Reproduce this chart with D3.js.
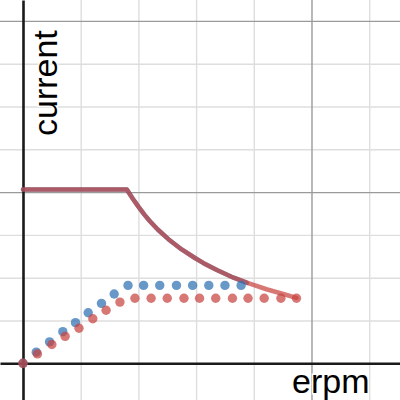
<!DOCTYPE html>
<html>
<head>
<meta charset="utf-8">
<script src="https://cdn.jsdelivr.net/npm/d3@7"></script>
<style>
  html, body { margin: 0; padding: 0; background: #fff; }
  svg { display: block; }
</style>
</head>
<body>
<svg id="chart" width="400" height="400"></svg>
<script>
// ---- data (x in thousand erpm, y in amps) ----
const xMinorTicks = [10, 20, 30, 40, 60];
const xMajorTicks = [50];
const yMinorTicks = [5, 10, 15, 25, 30, 35];
const yMajorTicks = [20, 40];

const blueX = [0, 2.3, 4.6, 6.9, 9.1, 11.3, 13.6, 15.8, 18.2, 20.9, 23.7, 26.6, 29.4, 32.2, 35.0, 37.8];
const blueY = [0, 1.3, 2.5, 3.7, 4.75, 5.9, 7.0, 8.1, 9.1, 9.1, 9.1, 9.1, 9.1, 9.1, 9.1, 9.1];

const redX = [0, 2.5, 5.0, 7.3, 9.7, 12.1, 14.4, 16.8, 19.4, 22.2, 25.0, 27.9, 30.6, 33.4, 36.3, 39.0, 41.8, 44.7, 47.4];
const redY = [0, 1.1, 2.2, 3.15, 4.1, 5.2, 6.2, 7.15, 7.6, 7.6, 7.6, 7.6, 7.6, 7.6, 7.6, 7.6, 7.6, 7.6, 7.6];

const redLineX = [0, 18.0, 19.0, 20.0, 21.0, 22.0, 23.4, 25.2, 27.5, 29.8, 31.3, 33.6, 36.5, 39.3, 42.2, 45.1, 47.4];
const redLineY = [20.3, 20.3, 19.25, 18.3, 17.4, 16.6, 15.6, 14.5, 13.3, 12.3, 11.7, 10.9, 10.0, 9.3, 8.65, 8.1, 7.65];

const blueLineX = [0, 18.0, 19.0, 20.0, 21.0, 22.0, 23.4, 25.2, 27.5, 29.8, 31.3, 33.6, 36.5, 38.8];
const blueLineY = [20.3, 20.3, 19.25, 18.3, 17.4, 16.6, 15.6, 14.5, 13.3, 12.3, 11.7, 10.9, 10.0, 9.4];

const xLabel = "erpm";
const yLabel = "current";

// ---- drawing ----
const W = 400, H = 400;
const svg = d3.select("#chart");
const x = d3.scaleLinear().domain([-3.986, 65.34]).range([0, W]);
const y = d3.scaleLinear().domain([42.44, -4.287]).range([0, H]);

const RED = "#c74440", BLUE = "#2d70b3";

function gridX(ticks, color, width) {
  const g = svg.append("g").attr("transform", `translate(0,${H})`)
    .call(d3.axisBottom(x).tickValues(ticks).tickSize(-H).tickFormat(""));
  g.select(".domain").remove();
  g.selectAll(".tick line").attr("stroke", color).attr("stroke-width", width);
}
function gridY(ticks, color, width) {
  const g = svg.append("g")
    .call(d3.axisLeft(y).tickValues(ticks).tickSize(-W).tickFormat(""));
  g.select(".domain").remove();
  g.selectAll(".tick line").attr("stroke", color).attr("stroke-width", width);
}
gridX(xMinorTicks, "#dedede", 1.4);
gridY(yMinorTicks, "#dedede", 1.4);
gridX(xMajorTicks, "#9a9a9a", 1.4);
gridY(yMajorTicks, "#9a9a9a", 1.4);

// axes (zero lines)
const ax = svg.append("g").attr("transform", `translate(0,${y(0)})`)
  .call(d3.axisBottom(x).tickValues([]).tickSizeOuter(0));
ax.select(".domain").attr("stroke", "#1a1a1a").attr("stroke-width", 2.6);
const ay = svg.append("g").attr("transform", `translate(${x(0)},0)`)
  .call(d3.axisLeft(y).tickValues([]).tickSizeOuter(0));
ay.select(".domain").attr("stroke", "#1a1a1a").attr("stroke-width", 2.6);

const line = d3.line().x(d => x(d[0])).y(d => y(d[1])).curve(d3.curveLinear);

function drawLine(xs, ys, color) {
  svg.append("path")
    .datum(xs.map((v, i) => [v, ys[i]]))
    .attr("d", line)
    .attr("fill", "none")
    .attr("stroke", color)
    .attr("stroke-opacity", 0.72)
    .attr("stroke-width", 4.5)
    .attr("stroke-linecap", "round")
    .attr("stroke-linejoin", "round");
}
drawLine(blueLineX, blueLineY, BLUE);
drawLine(redLineX, redLineY, RED);

function drawDots(xs, ys, color) {
  svg.append("g").selectAll("circle")
    .data(xs.map((v, i) => [v, ys[i]]))
    .join("circle")
    .attr("cx", d => x(d[0]))
    .attr("cy", d => y(d[1]))
    .attr("r", 4.7)
    .attr("fill", color)
    .attr("fill-opacity", 0.72);
}
drawDots(blueX, blueY, BLUE);
drawDots(redX, redY, RED);

// labels
svg.append("text")
  .attr("x", 292).attr("y", 393)
  .attr("font-family", "'Liberation Sans', Arial, sans-serif")
  .attr("font-size", 34)
  .attr("fill", "#000")
  .attr("stroke", "#fff").attr("stroke-width", 3).attr("paint-order", "stroke")
  .text(xLabel);

svg.append("text")
  .attr("transform", "translate(57,136) rotate(-90)")
  .attr("font-family", "'Liberation Sans', Arial, sans-serif")
  .attr("font-size", 34)
  .attr("fill", "#000")
  .attr("stroke", "#fff").attr("stroke-width", 3).attr("paint-order", "stroke")
  .text(yLabel);
</script>
</body>
</html>
